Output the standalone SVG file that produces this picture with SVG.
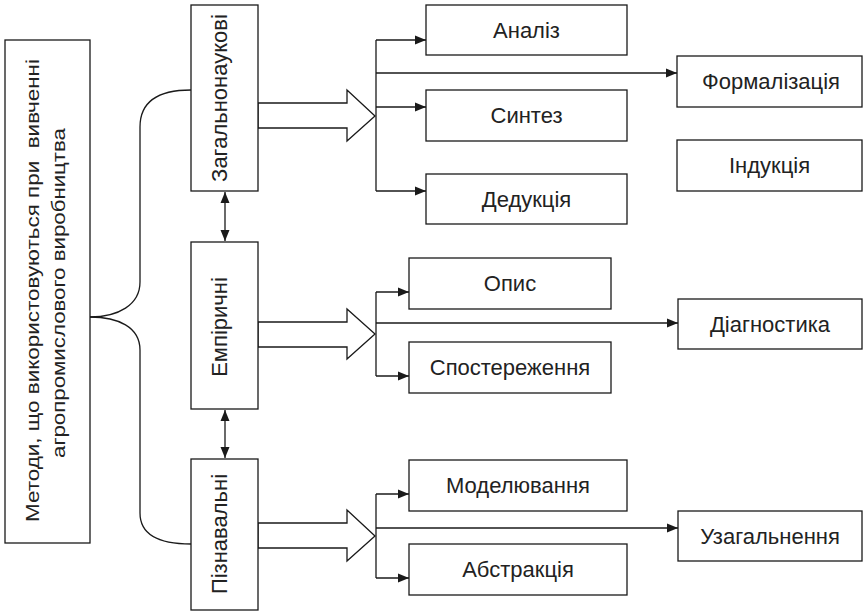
<svg xmlns="http://www.w3.org/2000/svg" width="864" height="612" viewBox="0 0 864 612">
<style>
  .box{fill:#fff;stroke:#1a1a1a;stroke-width:1.3}
  .t{font-family:"Liberation Sans",Arial,sans-serif;font-size:22px;fill:#222;text-anchor:middle}
  .tl{font-family:"Liberation Sans",Arial,sans-serif;font-size:19px;fill:#222;text-anchor:middle;white-space:pre}
  .ln{fill:none;stroke:#1a1a1a;stroke-width:1.3}
  .blk{fill:#fff;stroke:#1a1a1a;stroke-width:1.3;stroke-linejoin:miter}
</style>
<defs>
  <marker id="ah" markerUnits="userSpaceOnUse" markerWidth="12" markerHeight="10" refX="11" refY="5" orient="auto">
    <path d="M0,0.5 L11,5 L0,9.5 Z" fill="#1a1a1a"/>
  </marker>
  <marker id="as" markerUnits="userSpaceOnUse" markerWidth="12" markerHeight="10" refX="0" refY="5" orient="auto">
    <path d="M11,0.5 L0,5 L11,9.5 Z" fill="#1a1a1a"/>
  </marker>
</defs>
<rect width="864" height="612" fill="#fff"/>

<g id="connectors">
  <path class="ln" d="M191,90 C160,90 140,100 140,127 L140,282 C140,305 118,317 90,317"/>
  <path class="ln" d="M90,317 C118,317 140,327 140,350 L140,513 C140,535 160,544 191,544"/>
  <line class="ln" x1="225" y1="192" x2="225" y2="241" marker-start="url(#as)" marker-end="url(#ah)"/>
  <line class="ln" x1="225" y1="410" x2="225" y2="458" marker-start="url(#as)" marker-end="url(#ah)"/>
  <polygon class="blk" points="258,103 347,103 347,90 375,116 347,141 347,128 258,128"/>
  <polygon class="blk" points="258,322 347,322 347,309 375,334 347,359 347,347 258,347"/>
  <polygon class="blk" points="258,523 347,523 347,510 375,536 347,561 347,548 258,548"/>
  <line class="ln" x1="376" y1="40" x2="376" y2="191"/>
  <line class="ln" x1="376" y1="40" x2="426" y2="40" marker-end="url(#ah)"/>
  <line class="ln" x1="376" y1="107" x2="426" y2="107" marker-end="url(#ah)"/>
  <line class="ln" x1="376" y1="191" x2="426" y2="191" marker-end="url(#ah)"/>
  <line class="ln" x1="376" y1="73" x2="677" y2="73" marker-end="url(#ah)"/>
  <line class="ln" x1="376" y1="292" x2="376" y2="376"/>
  <line class="ln" x1="376" y1="292" x2="409" y2="292" marker-end="url(#ah)"/>
  <line class="ln" x1="376" y1="376" x2="409" y2="376" marker-end="url(#ah)"/>
  <line class="ln" x1="376" y1="323" x2="678" y2="323" marker-end="url(#ah)"/>
  <line class="ln" x1="376" y1="494" x2="376" y2="578"/>
  <line class="ln" x1="376" y1="494" x2="409" y2="494" marker-end="url(#ah)"/>
  <line class="ln" x1="376" y1="578" x2="409" y2="578" marker-end="url(#ah)"/>
  <line class="ln" x1="376" y1="528" x2="678" y2="528" marker-end="url(#ah)"/>
</g>

<g id="methods">
  <rect class="box" x="5" y="40" width="85" height="503"/>
  <text class="tl" xml:space="preserve" transform="translate(39,290.5) rotate(-90)" textLength="463" lengthAdjust="spacingAndGlyphs">Методи, що використовуються при  вивченні</text>
  <text class="tl" transform="translate(64.5,293) rotate(-90)" textLength="330" lengthAdjust="spacingAndGlyphs">агропромислового виробництва</text>
</g>

<g id="general">
  <rect class="box" x="191" y="5" width="67" height="186"/>
  <text class="t" transform="translate(227,98) rotate(-90)">Загальнонаукові</text>
</g>
<g id="empirical">
  <rect class="box" x="191" y="242" width="67" height="167"/>
  <text class="t" transform="translate(227,327) rotate(-90)">Емпіричні</text>
</g>
<g id="cognitive">
  <rect class="box" x="191" y="459" width="67" height="151"/>
  <text class="t" transform="translate(227,534) rotate(-90)">Пізнавальні</text>
</g>

<g id="analysis">
  <rect class="box" x="426" y="5" width="201" height="50"/>
  <text class="t" x="526.5" y="37.5">Аналіз</text>
</g>
<g id="synthesis">
  <rect class="box" x="426" y="90" width="201" height="51"/>
  <text class="t" x="526.5" y="123">Синтез</text>
</g>
<g id="deduction">
  <rect class="box" x="426" y="174" width="201" height="50"/>
  <text class="t" x="526.5" y="206.5">Дедукція</text>
</g>
<g id="formalization">
  <rect class="box" x="677" y="56" width="185" height="51"/>
  <text class="t" x="771" y="89">Формалізація</text>
</g>
<g id="induction">
  <rect class="box" x="677" y="140" width="185" height="51"/>
  <text class="t" x="769.5" y="173">Індукція</text>
</g>

<g id="description">
  <rect class="box" x="409" y="258" width="202" height="51"/>
  <text class="t" x="510" y="291">Опис</text>
</g>
<g id="observation">
  <rect class="box" x="409" y="342" width="202" height="51"/>
  <text class="t" x="510" y="375">Спостереження</text>
</g>
<g id="diagnostics">
  <rect class="box" x="678" y="299" width="184" height="50"/>
  <text class="t" x="770" y="331.5">Діагностика</text>
</g>

<g id="modeling">
  <rect class="box" x="409" y="460" width="218" height="51"/>
  <text class="t" x="518" y="493">Моделювання</text>
</g>
<g id="abstraction">
  <rect class="box" x="409" y="544" width="218" height="51"/>
  <text class="t" x="518" y="577">Абстракція</text>
</g>
<g id="generalization">
  <rect class="box" x="678" y="511" width="184" height="50"/>
  <text class="t" x="770" y="543.5">Узагальнення</text>
</g>
</svg>
